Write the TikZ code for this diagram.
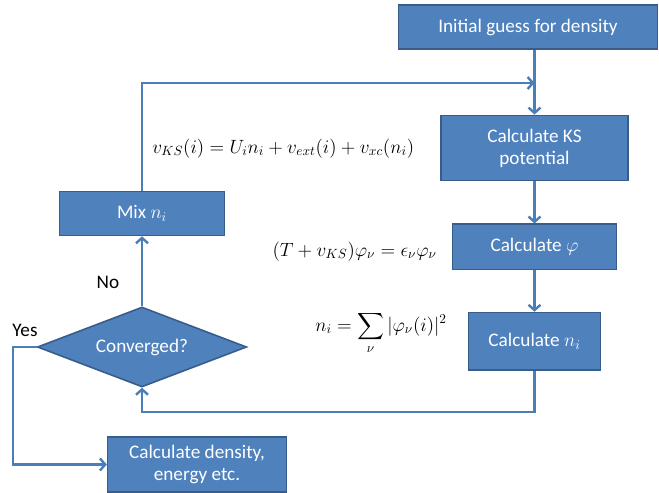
\documentclass[tikz,border=0pt]{standalone}
\usepackage{amsmath,amssymb}
\usepackage{fontspec}
\setmainfont{Carlito}
\usepackage{xcolor}
\usetikzlibrary{shapes.geometric,arrows.meta,positioning}
\definecolor{boxfill}{HTML}{4F81BD}
\definecolor{boxline}{HTML}{385D8A}
\definecolor{flowline}{HTML}{4A7EBB}

\begin{document}
\begin{tikzpicture}[x=0.75pt, y=-0.75pt,
    box/.style={rectangle, draw=boxline, fill=boxfill, line width=1.2pt, text=white, align=center, inner sep=2pt, font=\fontsize{14.4}{16.5}\selectfont},
    decision/.style={diamond, aspect=2.6, draw=boxline, fill=boxfill, line width=1.2pt, text=white, inner sep=0pt, minimum width=157pt, minimum height=60pt, font=\fontsize{14.4}{16.5}\selectfont},
    arrow/.style={-{Straight Barb[length=4pt,width=9pt]}, line width=1.8pt, draw=flowline},
    eq/.style={inner sep=0pt, font=\fontsize{14}{16}\selectfont},
    lbl/.style={inner sep=0pt, font=\fontsize{14.4}{16.5}\selectfont}
]
    \useasboundingbox (0,0) rectangle (659,492);

    % main loop on the right
    \node (init) [box, minimum width=194pt, minimum height=33pt] at (528,27) {Initial guess for density};
    \node (ks) [box, minimum width=140pt, minimum height=49pt] at (534.5,148) {Calculate KS\\potential};
    \node (phi) [box, minimum width=123pt, minimum height=34pt, below=31.5pt of ks] {Calculate $\varphi$};
    \node (dn) [box, minimum width=99pt, minimum height=43pt, below=31pt of phi] {Calculate $n_i$};

    % left column
    \node (conv) [decision] at (142,347) {Converged?};
    \node (mix) [box, minimum width=124pt, minimum height=33pt] at (142,213.5) {Mix $n_i$};
    \node (out) [box, minimum width=134pt, minimum height=41pt] at (197,464.5) {Calculate density,\\energy etc.};

    % equations
    \node (vks) [eq, anchor=base west, font=\fontsize{14.7}{16}\selectfont] at (152,153) {$v_{KS}(i)=U_in_i+v_{ext}(i)+v_{xc}(n_i)$};
    \node (schr) [eq, anchor=base east] at (437,256) {$(T+v_{KS})\varphi_\nu=\epsilon_\nu\varphi_\nu$};
    \node (sum) [eq, anchor=base east] at (447,331) {$\displaystyle n_i=\sum_\nu|\varphi_\nu(i)|^2$};

    \node (no) [lbl] at (108,282) {No};
    \node (yes) [lbl] at (25,330) {Yes};

    \coordinate (join) at (534.5,83);
    \coordinate (back) at (534.5,412);
    \coordinate (side) at (13,347);

    \draw [arrow] (init.south -| ks.north) -- (ks.north);
    \draw [arrow] (mix.north) |- (join);
    \draw [arrow] (ks) -- (phi);
    \draw [arrow] (phi) -- (dn);
    \draw [arrow] (dn.south) -- (back) -| (conv.south);
    \draw [arrow] (conv) -- (mix);
    \draw [arrow] (conv.west) -- (side) |- (out.west);
\end{tikzpicture}
\end{document}
